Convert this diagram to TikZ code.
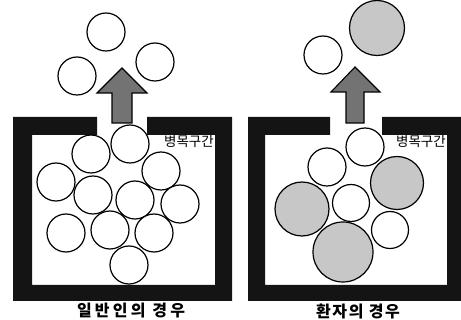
\documentclass[tikz,border=0pt]{standalone}
\usepackage{fontspec}
\newfontfamily\kr{Noto Sans CJK KR}
\newfontfamily\krwide{Noto Sans CJK KR}[LetterSpace=20]
\newfontfamily\krmid{Noto Sans CJK KR}[LetterSpace=10]
\begin{document}
\begin{tikzpicture}[x=1pt,y=-1pt,
  wall/.style={fill=black!92,draw=none},
  upar/.style={fill=black!55,draw=black,line width=1.1pt,line join=miter},
  ball/.style={circle,draw=black,line width=1.2pt,fill=white,inner sep=0pt,minimum size=38pt},
  bigball/.style={ball,fill=black!22},
  neck/.style={font=\kr\fontsize{13.5}{14}\selectfont,inner sep=0pt},
  caption/.style={inner sep=0pt}]
\useasboundingbox (0,0) rectangle (461,320);
% left container
\fill[wall] (13,117) -- (97,117) -- (97,135) -- (32,135) -- (32,285) -- (215,285) -- (215,135) -- (147,135) -- (147,117) -- (232,117) -- (232,301) -- (13,301) -- cycle;
% right container
\fill[wall] (248,117) -- (330,117) -- (330,135) -- (265,135) -- (265,285) -- (447,285) -- (447,135) -- (382,135) -- (382,117) -- (461,117) -- (461,301) -- (248,301) -- cycle;
% arrows
\draw[upar] (122,68) -- (147,93) -- (132,93) -- (132,123) -- (112,123) -- (112,93) -- (97,93) -- cycle;
\draw[upar] (355,67) -- (380,92) -- (364,92) -- (364,123) -- (346,123) -- (346,92) -- (331,92) -- cycle;
% left balls
\node[ball] (l1) at (106,32) {};
\node[ball] (l2) at (77,76) {};
\node[ball] (l3) at (155,62) {};
\node[ball] (l4) at (130,144) {};
\node[ball] (l5) at (91,154) {};
\node[ball] (l6) at (161,171) {};
\node[ball] (l7) at (56,182) {};
\node[ball] (l8) at (93,195) {};
\node[ball] (l9) at (135,200) {};
\node[ball] (l10) at (180,204) {};
\node[ball] (l11) at (66,233) {};
\node[ball] (l12) at (110,230) {};
\node[ball] (l13) at (154,233) {};
\node[ball] (l14) at (129,265) {};
% right balls
\node[ball] (r1) at (323,55) {};
\node[bigball,minimum size=55pt] (r2) at (377,28) {};
\node[ball] (r3) at (365,147) {};
\node[ball] (r4) at (327,167) {};
\node[bigball,minimum size=54pt] (r5) at (302,209) {};
\node[ball,minimum size=37pt] (r6) at (351,203) {};
\node[bigball,minimum size=53pt] (r7) at (397,183) {};
\node[ball,minimum size=37pt] (r8) at (390,230) {};
\node[bigball,minimum size=60pt] (r9) at (343,252) {};
% texts
\node[neck,anchor=north east] (tl) at (214,135) {병목구간};
\node[neck,anchor=north east] (tr) at (446,135) {병목구간};
\node[caption,font=\krwide\bfseries\fontsize{16}{17}\selectfont] (cl) at (131,311) {일반인의 경우};
\node[caption,font=\krmid\bfseries\fontsize{16}{17}\selectfont] (cr) at (358,311) {환자의 경우};
\end{tikzpicture}
\end{document}
